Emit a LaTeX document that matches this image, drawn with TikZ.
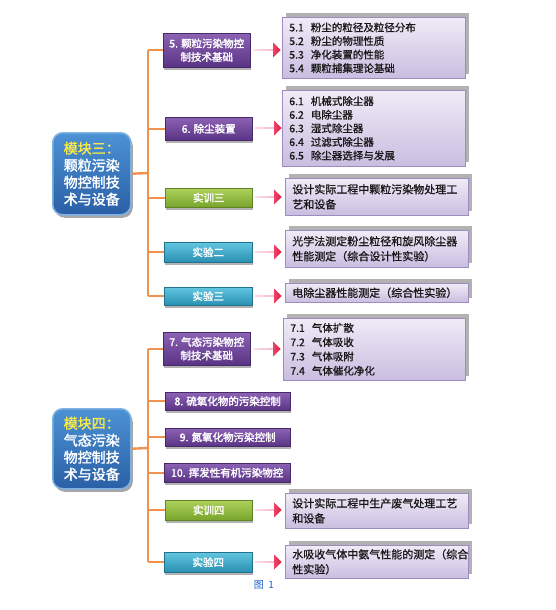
\documentclass[tikz,border=0pt]{standalone}
\usepackage{fontspec}
\setmainfont{Noto Sans CJK SC}
\newfontfamily\bfja{Noto Sans CJK SC}[FakeBold=2]
\newfontfamily\bfjb{Noto Sans CJK SC}[FakeBold=1]
\usetikzlibrary{shapes.arrows,shadows}
\definecolor{purpT}{HTML}{8C62B4}
\definecolor{purpB}{HTML}{5A3484}
\definecolor{grnT}{HTML}{AED25C}
\definecolor{grnB}{HTML}{78A42C}
\definecolor{cyT}{HTML}{62C6E0}
\definecolor{cyB}{HTML}{2A90B2}
\definecolor{modT}{HTML}{4C92D4}
\definecolor{modB}{HTML}{2A5FA6}
\definecolor{modE}{HTML}{7FB2E2}
\definecolor{lavT}{HTML}{F0EBF7}
\definecolor{lavB}{HTML}{CABDE0}
\definecolor{lavD}{HTML}{9D8CC0}
\definecolor{orng}{HTML}{F09250}
\definecolor{arrL}{HTML}{F4A4BC}
\definecolor{arrR}{HTML}{E81C46}
\definecolor{modY}{HTML}{F6E84A}
\definecolor{capc}{HTML}{2060D0}
\tikzset{
  brbase/.style={anchor=north west, inner sep=0pt, text=white, align=center,
    font=\bfja\fontsize{10.5}{13.5}\selectfont,
    drop shadow={shadow xshift=1pt, shadow yshift=-3pt, opacity=0.3, fill=black}},
  brP/.style={brbase, top color=purpT, bottom color=purpB, draw=purpB!80!black, line width=0.4pt},
  brG/.style={brbase, top color=grnT, bottom color=grnB, draw=grnB!80!black, line width=0.4pt},
  brC/.style={brbase, top color=cyT, bottom color=cyB, draw=cyB!80!black, line width=0.4pt},
  rbox/.style={anchor=north west, top color=lavT, bottom color=lavB, draw=lavD, line width=0.6pt,
    inner xsep=7pt, inner ysep=0pt, align=left, text=black!90,
    drop shadow={shadow xshift=4pt, shadow yshift=4pt, opacity=0.6, fill=gray}},
  lst/.style={rbox, font=\bfjb\fontsize{10.5}{13.6}\selectfont},
  par/.style={rbox, font=\bfjb\fontsize{11}{15}\selectfont},
  modbox/.style={anchor=north west, rounded corners=10pt, top color=modT, bottom color=modB,
    draw=modE, line width=1.5pt, align=left, inner sep=0pt, text=white,
    font=\bfja\fontsize{14}{17}\selectfont,
    drop shadow={shadow xshift=2pt, shadow yshift=-3pt, opacity=0.35, fill=black}},
  arr/.style={single arrow, single arrow head extend=4pt, minimum height=27pt,
    minimum width=15pt, inner sep=0pt, left color=arrL, right color=arrR, draw=none},
  conn/.style={draw=orng, line width=2.4pt}
}
\begin{document}
\begin{tikzpicture}[x=1pt,y=-1pt]
\useasboundingbox[fill=white] (0,0) rectangle (556,610);

% module boxes
\node[modbox, minimum width=78pt, minimum height=82pt] (m3) at (52,132)
  {\textcolor{modY}{模块三：}\\颗粒污染\\物控制技\\术与设备};
\node[modbox, minimum width=78pt, minimum height=80pt] (m4) at (52,408)
  {\textcolor{modY}{模块四：}\\气态污染\\物控制技\\术与设备};

% spine coordinates
\coordinate (sp3) at (148,173);
\coordinate (sp4) at (148,448);

% branch boxes, module 3
\node[brP, minimum width=87pt, minimum height=34pt] (b5) at (163,33) {5. 颗粒污染物控\\制技术基础};
\node[brP, minimum width=87pt, minimum height=23pt] (b6) at (165,117) {6. 除尘装置};
\node[brG, minimum width=87pt, minimum height=19pt] (s3) at (165,188) {实训三};
\node[brC, minimum width=88pt, minimum height=20pt] (e2) at (164,242) {实验二};
\node[brC, minimum width=88pt, minimum height=18pt] (e3) at (164,287) {实验三};

% branch boxes, module 4
\node[brP, minimum width=87pt, minimum height=33pt] (b7) at (163,332) {7. 气态污染物控\\制技术基础};
\node[brP, minimum width=125pt, minimum height=18pt] (b8) at (165,392) {8. 硫氧化物的污染控制};
\node[brP, minimum width=125pt, minimum height=18pt] (b9) at (165,428) {9. 氮氧化物污染控制};
\node[brP, minimum width=126pt, minimum height=19pt] (b10) at (164,463) {10. 挥发性有机污染物控};
\node[brG, minimum width=87pt, minimum height=20pt] (s4) at (165,500) {实训四};
\node[brC, minimum width=88pt, minimum height=20pt] (e4) at (164,552) {实验四};

% connectors
\draw[conn] (m3.east) -- (sp3);
\draw[conn] (b5.west -| sp3) -- (e3.west -| sp3);
\foreach \n in {b5,b6,s3,e2,e3} \draw[conn] (\n.west -| sp3) -- (\n.west);
\draw[conn] (m4.east) -- (sp4);
\draw[conn] (b7.west -| sp4) -- (e4.west -| sp4);
\foreach \n in {b7,b8,b9,b10,s4,e4} \draw[conn] (\n.west -| sp4) -- (\n.west);

% right boxes
\node[lst, text width=169pt, minimum height=61pt] (r5) at (282,17)
  {5.1\ \ 粉尘的粒径及粒径分布\\5.2\ \ 粉尘的物理性质\\5.3\ \ 净化装置的性能\\5.4\ \ 颗粒捕集理论基础};
\node[lst, text width=169pt, minimum height=76pt] (r6) at (282,90)
  {6.1\ \ 机械式除尘器\\6.2\ \ 电除尘器\\6.3\ \ 湿式除尘器\\6.4\ \ 过滤式除尘器\\6.5\ \ 除尘器选择与发展};
\node[par, text width=169pt, minimum height=37pt] (rs3) at (285,178)
  {设计实际工程中颗粒污染物处理工\\艺和设备};
\node[par, text width=169pt, minimum height=37pt] (re2) at (285,230)
  {光学法测定粉尘粒径和旋风除尘器\\性能测定（综合设计性实验）};
\node[par, text width=169pt, minimum height=19pt] (re3) at (285,283)
  {电除尘器性能测定（综合性实验）};
\node[lst, text width=168pt, minimum height=62pt, font=\bfjb\fontsize{10.5}{14.3}\selectfont] (r7) at (283,318)
  {7.1\ \ 气体扩散\\7.2\ \ 气体吸收\\7.3\ \ 气体吸附\\7.4\ \ 气体催化净化};
\node[par, text width=169pt, minimum height=35pt] (rs4) at (285,493)
  {设计实际工程中生产废气处理工艺\\和设备};
\node[par, text width=169pt, minimum height=33pt] (re4) at (285,545)
  {水吸收气体中氨气性能的测定（综合\\性实验）};

% arrows
\node[arr] (a5) at (267,50) {};
\node[arr] (a6) at (268,128) {};
\node[arr] (as3) at (268,197) {};
\node[arr] (ae2) at (268,252) {};
\node[arr] (ae3) at (268,296) {};
\node[arr] (a7) at (267,349) {};
\node[arr] (as4) at (268,510) {};
\node[arr] (ae4) at (268,562) {};

% caption
\node[text=capc, font=\fontsize{10}{12}\selectfont] (cap) at (264,585) {图\ \ 1};
\end{tikzpicture}
\end{document}
